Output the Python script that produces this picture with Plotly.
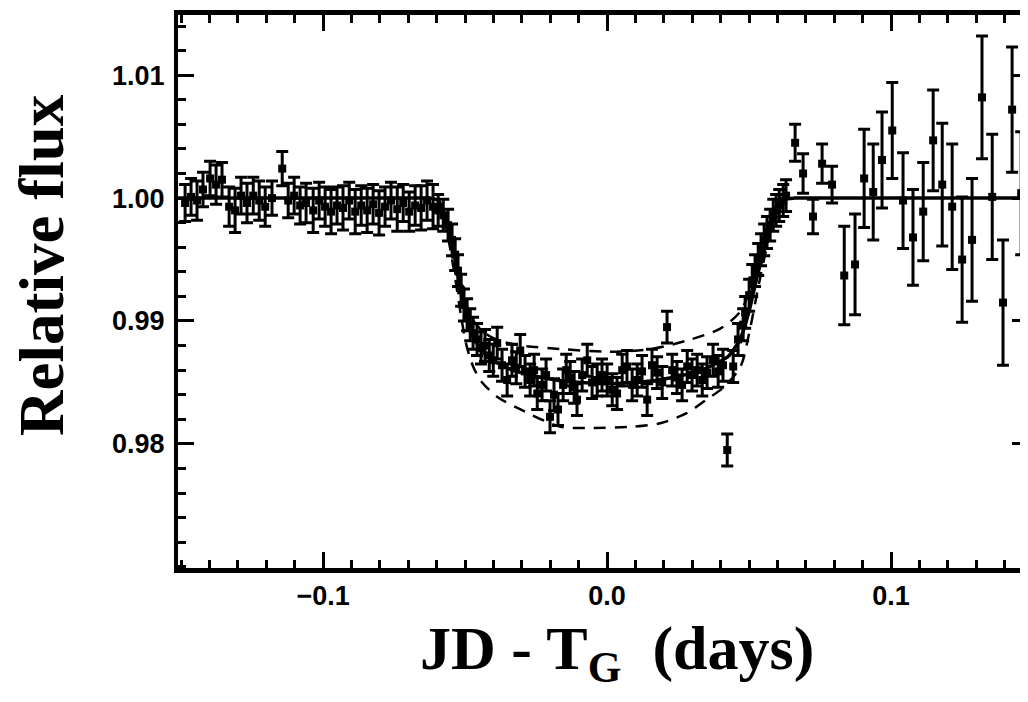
import plotly.graph_objects as go

# ---------------- observations ----------------
pre_x = [-0.1486, -0.1465, -0.1444, -0.1423, -0.1398, -0.1377, -0.1356, -0.1331, -0.1310, -0.1289,
         -0.1268, -0.1246, -0.1225, -0.1204, -0.1180, -0.1144, -0.1123, -0.1102, -0.1081, -0.1060,
         -0.1035, -0.1014, -0.0993, -0.0972, -0.0951, -0.0930, -0.0908, -0.0887, -0.0866, -0.0845,
         -0.0824, -0.0803, -0.0782, -0.0761, -0.0739, -0.0718, -0.0697, -0.0676, -0.0655, -0.0634,
         -0.0613]
pre_y = [0.9996, 1.0001, 0.9998, 1.0007, 1.0016, 1.0011, 1.0015, 0.9993, 0.9990, 1.0002,
         0.9996, 1.0002, 0.9998, 0.9993, 1.0000, 1.0024, 0.9998, 1.0002, 0.9994, 0.9996,
         0.9990, 0.9998, 0.9993, 0.9989, 0.9994, 0.9992, 0.9998, 0.9989, 0.9994, 0.9990,
         0.9995, 0.9988, 0.9993, 0.9998, 0.9991, 0.9996, 0.9989, 0.9994, 0.9992, 0.9998,
         0.9993]
pre_err = [0.0015, 0.0015, 0.0016, 0.0014, 0.0014, 0.0016, 0.0014, 0.0016, 0.0018, 0.0015,
           0.0016, 0.0015, 0.0016, 0.0016, 0.0014, 0.0014, 0.0014, 0.0015, 0.0015, 0.0016,
           0.0018, 0.0015, 0.0016, 0.0018, 0.0015, 0.0018, 0.0015, 0.0018, 0.0016, 0.0018,
           0.0016, 0.0018, 0.0016, 0.0015, 0.0018, 0.0015, 0.0016, 0.0016, 0.0018, 0.0016,
           0.0018]

tr_x = [-0.0595, -0.0577, -0.0560, -0.0546, -0.0535, -0.0525, -0.0514, -0.0504, -0.0493, -0.0482,
        -0.0472, -0.0458, -0.0444, -0.0430, -0.0415, -0.0401, -0.0387, -0.0370, -0.0352, -0.0335,
        -0.0320, -0.0306, -0.0289, -0.0271, -0.0257, -0.0246, -0.0229, -0.0215, -0.0201, -0.0187,
        -0.0173, -0.0155, -0.0144, -0.0130, -0.0116, -0.0106, -0.0088, -0.0070, -0.0053, -0.0035,
        -0.0018, 0.0000, 0.0018, 0.0035, 0.0053, 0.0070, 0.0088, 0.0106, 0.0123, 0.0141,
        0.0158, 0.0176, 0.0194, 0.0211, 0.0229, 0.0246, 0.0264, 0.0282, 0.0299, 0.0317,
        0.0335, 0.0352, 0.0373, 0.0391, 0.0408, 0.0423, 0.0444, 0.0461, 0.0479, 0.0486,
        0.0500, 0.0511, 0.0521, 0.0532, 0.0542, 0.0553, 0.0563, 0.0574, 0.0585, 0.0595,
        0.0606, 0.0620, 0.0630]
tr_y = [0.9990, 0.9986, 0.9978, 0.9966, 0.9954, 0.9941, 0.9925, 0.9913, 0.9905, 0.9897,
        0.9890, 0.9885, 0.9878, 0.9880, 0.9872, 0.9868, 0.9882, 0.9864, 0.9852, 0.9868,
        0.9862, 0.9876, 0.9859, 0.9852, 0.9860, 0.9841, 0.9848, 0.9856, 0.9822, 0.9840,
        0.9828, 0.9848, 0.9860, 0.9854, 0.9846, 0.9836, 0.9856, 0.9868, 0.9850, 0.9852,
        0.9856, 0.9852, 0.9844, 0.9841, 0.9860, 0.9863, 0.9848, 0.9852, 0.9859, 0.9836,
        0.9864, 0.9858, 0.9850, 0.9895, 0.9860, 0.9854, 0.9848, 0.9863, 0.9856, 0.9860,
        0.9852, 0.9858, 0.9868, 0.9859, 0.9864, 0.9795, 0.9863, 0.9885, 0.9897, 0.9907,
        0.9921, 0.9933, 0.9941, 0.9950, 0.9958, 0.9966, 0.9972, 0.9978, 0.9986, 0.9990,
        0.9994, 0.9998, 1.0002]
tr_err = 0.0013

post_x = [0.0662, 0.0690, 0.0725, 0.0757, 0.0792, 0.0835, 0.0873, 0.0905, 0.0937, 0.0968,
          0.1004, 0.1042, 0.1077, 0.1113, 0.1148, 0.1180, 0.1215, 0.1250, 0.1285, 0.1320,
          0.1356, 0.1394, 0.1426, 0.1458]
post_y = [1.0045, 1.0020, 0.9985, 1.0028, 1.0011, 0.9937, 0.9946, 1.0016, 1.0005, 1.0031,
          1.0055, 0.9998, 0.9968, 0.9989, 1.0047, 1.0011, 0.9993, 0.9950, 0.9966, 1.0082,
          1.0001, 0.9915, 1.0072, 1.0004]
post_err = [0.0015, 0.0016, 0.0014, 0.0016, 0.0015, 0.0040, 0.0041, 0.0040, 0.0039, 0.0039,
            0.0039, 0.0039, 0.0039, 0.0040, 0.0041, 0.0050, 0.0051, 0.0051, 0.0050, 0.0050,
            0.0051, 0.0051, 0.0051, 0.0050]

# ---------------- model curves ----------------
fit_x = [-0.1511, -0.0700, -0.0630, -0.0595, -0.0575, -0.0555, -0.0535, -0.0515, -0.0495, -0.0475,
         -0.0450, -0.0420, -0.0380, -0.0320, -0.0250, -0.0150, 0.0000, 0.0150, 0.0250, 0.0320,
         0.0380, 0.0430, 0.0468, 0.0500, 0.0530, 0.0560, 0.0590, 0.0625, 0.0660, 0.0730, 0.1482]
fit_y = [1.0000, 1.0000, 1.0000, 0.9998, 0.9988, 0.9974, 0.9950, 0.9923, 0.9903, 0.9889,
         0.9879, 0.9871, 0.9865, 0.9859, 0.9855, 0.9851, 0.9849, 0.9851, 0.9855, 0.9859,
         0.9865, 0.9872, 0.9885, 0.9908, 0.9938, 0.9964, 0.9987, 0.9999, 1.0000, 1.0000, 1.0000]

up_x = [-0.0595, -0.0575, -0.0555, -0.0535, -0.0515, -0.0495, -0.0470, -0.0430, -0.0380, -0.0300,
        -0.0150, 0.0000, 0.0150, 0.0280, 0.0400, 0.0470, 0.0510, 0.0540, 0.0565, 0.0590, 0.0625]
up_y = [1.0000, 0.9989, 0.9974, 0.9953, 0.9931, 0.9913, 0.9900, 0.9890, 0.9884, 0.9880,
        0.9877, 0.9875, 0.9877, 0.9884, 0.9894, 0.9908, 0.9930, 0.9950, 0.9970, 0.9988, 1.0000]

lo_x = [-0.0595, -0.0575, -0.0555, -0.0535, -0.0515, -0.0495, -0.0470, -0.0440, -0.0385, -0.0305,
        -0.0165, -0.0060, 0.0090, 0.0190, 0.0280, 0.0350, 0.0410, 0.0470, 0.0500, 0.0530,
        0.0560, 0.0590, 0.0625]
lo_y = [1.0000, 0.9985, 0.9962, 0.9935, 0.9905, 0.9880, 0.9862, 0.9850, 0.9838, 0.9828,
        0.9814, 0.9813, 0.9814, 0.9817, 0.9825, 0.9836, 0.9846, 0.9863, 0.9890, 0.9925,
        0.9958, 0.9985, 1.0000]

x_ticks = [-0.1, 0.0, 0.1]
y_ticks = [0.98, 0.99, 1.00, 1.01]
x_range = [-0.1511, 0.1482]
y_range = [0.9699, 1.0149]

fig = go.Figure()

for xs, ys in [(up_x, up_y), (lo_x, lo_y)]:
    fig.add_trace(go.Scatter(x=xs, y=ys, mode="lines",
                             line=dict(color="black", width=2.5, dash="12px,9px",
                                       shape="spline", smoothing=0.8),
                             showlegend=False, hoverinfo="skip"))

fig.add_trace(go.Scatter(x=fit_x, y=fit_y, mode="lines",
                         line=dict(color="black", width=3.5, shape="spline", smoothing=0.5),
                         showlegend=False, hoverinfo="skip"))

for xs, ys, es in [(pre_x, pre_y, pre_err), (tr_x, tr_y, tr_err), (post_x, post_y, post_err)]:
    if isinstance(es, list):
        ey = dict(type="data", array=es, visible=True, color="black", thickness=3, width=6)
    else:
        ey = dict(type="constant", value=es, visible=True, color="black", thickness=3, width=6)
    fig.add_trace(go.Scatter(x=xs, y=ys, mode="markers",
                             marker=dict(symbol="square", size=8, color="black"),
                             error_y=ey, showlegend=False))

tick_font = dict(family="Liberation Sans, Arial, sans-serif", size=27, color="black", weight="bold")

fig.update_xaxes(range=x_range, showgrid=False, zeroline=False, automargin=False,
                 showline=True, linecolor="black", linewidth=5, mirror="ticks",
                 ticks="inside", ticklen=16, tickwidth=3, tickcolor="black",
                 tickvals=x_ticks, tickformat=".1f", tickfont=tick_font,
                 minor=dict(ticks="inside", tick0=0, dtick=0.01, ticklen=8, tickwidth=3, tickcolor="black"))
fig.update_yaxes(range=y_range, showgrid=False, zeroline=False, automargin=False,
                 showline=True, linecolor="black", linewidth=4, mirror="ticks",
                 ticks="inside", ticklen=16, tickwidth=3, tickcolor="black",
                 tickvals=y_ticks, tickformat=".2f", tickfont=tick_font, ticklabelstandoff=4,
                 minor=dict(ticks="inside", tick0=0, dtick=0.002, ticklen=8, tickwidth=3, tickcolor="black"))

# page body adds an 8px offset; plot area wanted at screen px 178..1028 x 15..568
W, H = 1028, 702
OFF = 8
S_L, S_R, S_T, S_B = 178, 1028, 15, 568
L, R, T, B = S_L - OFF, W - (S_R - OFF), S_T - OFF, H - (S_B - OFF)
pw = S_R - S_L
ph = S_B - S_T

fig.update_layout(
    width=W, height=H,
    margin=dict(l=L, r=R, t=T, b=B),
    paper_bgcolor="white", plot_bgcolor="white",
    annotations=[
        dict(text="<b>Relative flux</b>", textangle=-90,
             x=(42 - S_L) / pw, y=(S_B - 265) / ph, xref="paper", yref="paper",
             xanchor="center", yanchor="middle", showarrow=False,
             font=dict(family="Liberation Serif, Times New Roman, serif", size=63, color="black")),
        dict(text="<b>JD - T<sub>G</sub>  (days)</b>",
             x=(617 - S_L) / pw, y=(S_B - 652) / ph, xref="paper", yref="paper",
             xanchor="center", yanchor="middle", showarrow=False,
             font=dict(family="Liberation Serif, Times New Roman, serif", size=62, color="black")),
    ],
)

fig.write_html("out.html")
